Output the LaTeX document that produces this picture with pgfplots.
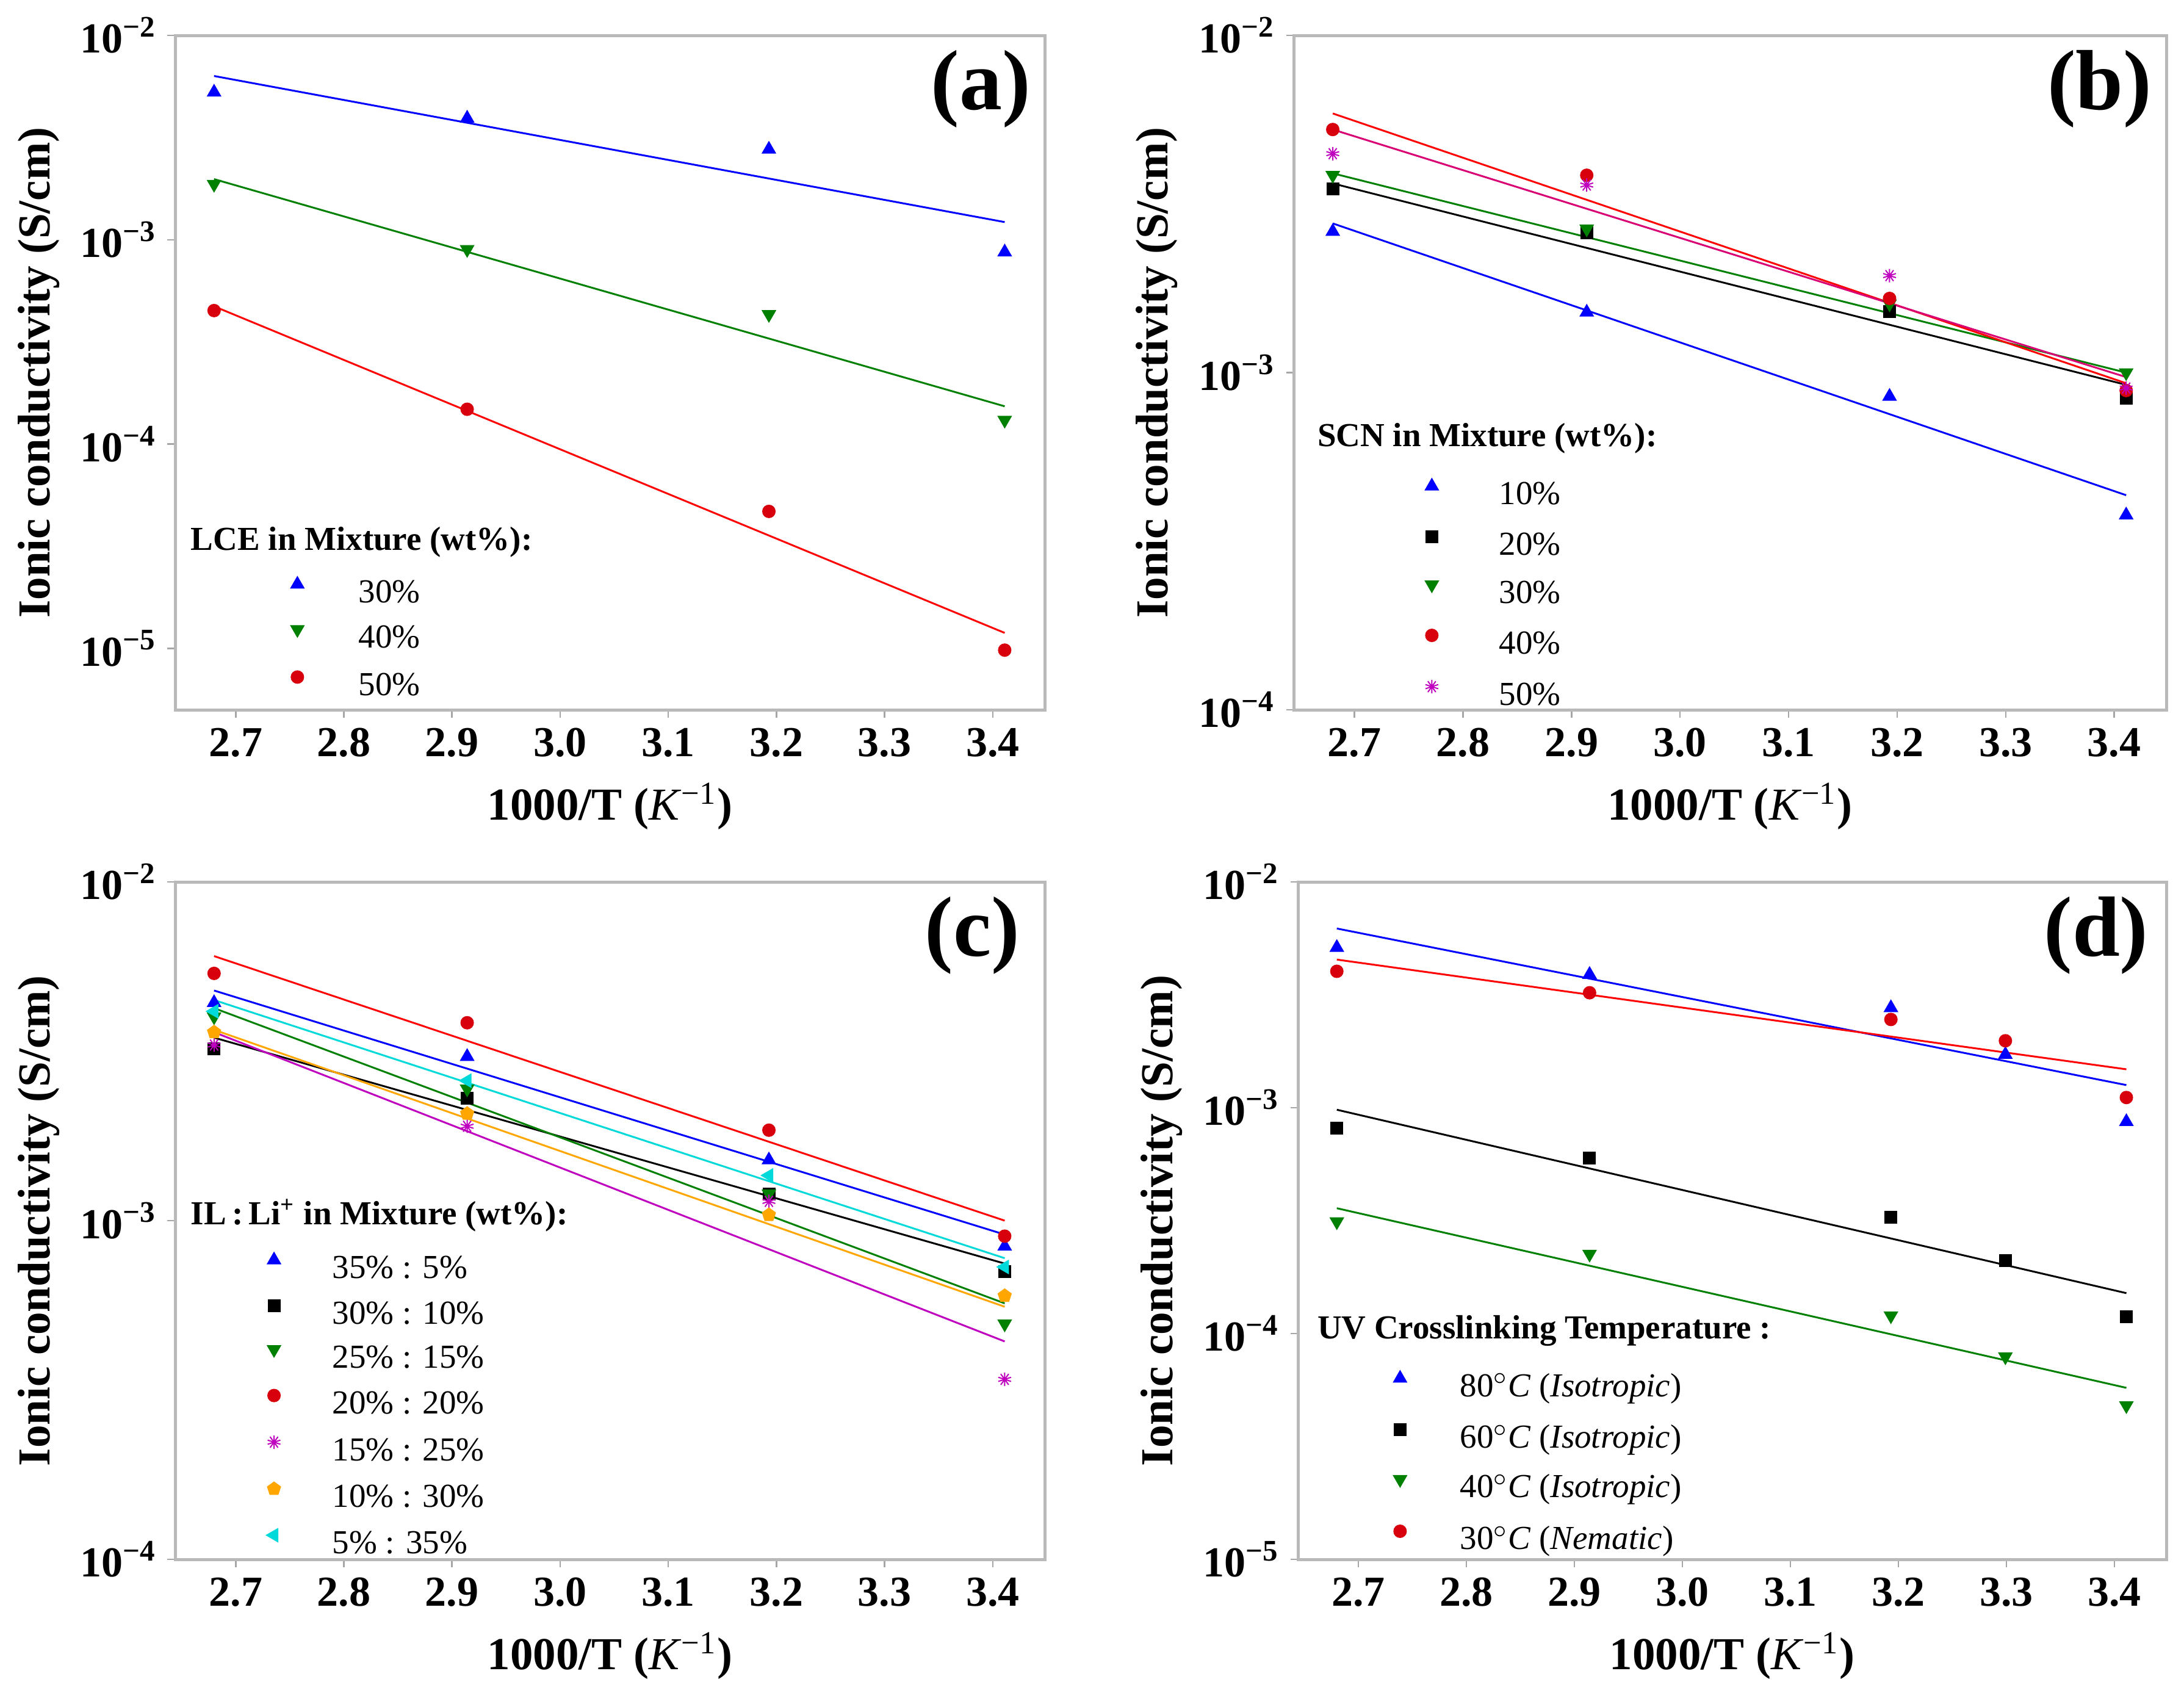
\documentclass[border=0pt]{standalone}
\usepackage{fontspec}
\setmainfont{Liberation Serif}
\usepackage{pgfplots}
\pgfplotsset{compat=1.18}
\definecolor{mblue}{rgb}{0,0,1}
\definecolor{mgreen}{rgb}{0,0.5,0}
\definecolor{mred}{rgb}{1,0,0}
\definecolor{mredm}{rgb}{0.85,0,0.05}
\definecolor{mmag}{rgb}{0.75,0,0.75}
\definecolor{morange}{rgb}{1,0.65,0}
\definecolor{mcyan}{rgb}{0,0.85,0.85}
\pgfplotsset{
  legend image code/.code={\draw[#1] plot coordinates {(0pt,3.5pt)};},
  fitline/.style={line width=0.6pt, forget plot},
  mypanel/.style={
    scale only axis,
    xmin=2.644, xmax=3.448,
    xtick={2.7,2.8,2.9,3.0,3.1,3.2,3.3,3.4},
    xticklabels={2.7,2.8,2.9,3.0,3.1,3.2,3.3,3.4},
    tick label style={font=\fontsize{14}{16}\selectfont\bfseries},
    axis line style={gray!55, line width=1pt},
    tick style={gray!70, line width=0.5pt},
    major tick length=2.5pt, tick align=outside, tick pos=left,
    yminorticks=false,
    xlabel={\textbf{1000/T (}\textit{K}\textsuperscript{−1}\textbf{)}},
    ylabel={\textbf{Ionic conductivity (S/cm)}},
    label style={font=\fontsize{15}{18}\selectfont},
    x label style={at={(axis description cs:0.5,0)}, yshift=-31.6pt, anchor=center},
    y label style={at={(axis description cs:-0.157,0.5)}, anchor=center},
    legend cell align=left,
  },
}
\newcommand{\paneltag}[2]{\node[anchor=north east, inner sep=0pt, font=\fontsize{28}{32}\selectfont\bfseries] at (rel axis cs:#1,0.979) {#2};}
\newcommand{\lgdtitle}[3]{\node[anchor=west, inner sep=0pt, font=\fontsize{11}{13}\selectfont\bfseries] at (rel axis cs:#1,#2) {#3};}
\begin{document}
\begin{tikzpicture}
\path[use as bounding box] (0pt,0pt) rectangle (715.8pt,-554.8pt);

% ---------------- (a)
\begin{semilogyaxis}[mypanel, at={(57.4pt,-11.6pt)}, anchor=north west, width=285pt, height=221pt,
  ymin=5e-6, ymax=1e-2,
  ytick={1e-5,1e-4,1e-3,1e-2},
  yticklabels={10\textsuperscript{−5},10\textsuperscript{−4},10\textsuperscript{−3},10\textsuperscript{−2}},
  legend style={draw=none, fill=none, at={(0.1333,0.197)}, anchor=north west,
      inner sep=0pt, outer sep=0pt, font=\fontsize{11}{13}\selectfont,
      column sep=18pt, row sep=5.6pt,
      nodes={inner sep=0pt, text height=7pt, text depth=2pt}}]
\addplot[mblue, fitline] coordinates {(2.680,6.33e-3) (3.411,1.22e-3)};
\addplot[mgreen, fitline] coordinates {(2.680,1.98e-3) (3.411,1.53e-4)};
\addplot[mred, fitline] coordinates {(2.680,4.72e-4) (3.411,1.19e-5)};
\addplot[only marks, mark=triangle*, mark size=2.4pt, mblue] coordinates {(2.680,5.27e-3) (2.914,3.93e-3) (3.193,2.77e-3) (3.411,8.7e-4)};
\addlegendentry{30\%}
\addplot[only marks, mark=triangle*, mark options={rotate=180}, mark size=2.4pt, mgreen] coordinates {(2.680,1.87e-3) (2.914,8.97e-4) (3.193,4.31e-4) (3.411,1.31e-4)};
\addlegendentry{40\%}
\addplot[only marks, mark=*, mark size=2pt, mredm] coordinates {(2.680,4.5e-4) (2.914,1.48e-4) (3.193,4.68e-5) (3.411,9.8e-6)};
\addlegendentry{50\%}
\lgdtitle{0.0175}{0.249}{LCE in Mixture (wt\%):}
\paneltag{0.9846}{(a)}
\end{semilogyaxis}

% ---------------- (b)
\begin{semilogyaxis}[mypanel, at={(424pt,-11.6pt)}, anchor=north west, width=286pt, height=221pt,
  ymin=1e-4, ymax=1e-2,
  ytick={1e-4,1e-3,1e-2},
  yticklabels={10\textsuperscript{−4},10\textsuperscript{−3},10\textsuperscript{−2}},
  legend style={draw=none, fill=none, at={(0.151,0.3425)}, anchor=north west,
      inner sep=0pt, outer sep=0pt, font=\fontsize{11}{13}\selectfont,
      column sep=20pt, row sep=6.6pt,
      nodes={inner sep=0pt, text height=7pt, text depth=2pt}}]
\addplot[mblue, fitline] coordinates {(2.680,2.77e-3) (3.411,4.33e-4)};
\addplot[black, fitline] coordinates {(2.680,3.64e-3) (3.411,9.2e-4)};
\addplot[mgreen, fitline] coordinates {(2.680,3.9e-3) (3.411,1.0e-3)};
\addplot[mred, fitline] coordinates {(2.680,5.87e-3) (3.411,9.3e-4)};
\addplot[mmag!60!mred, fitline] coordinates {(2.680,5.26e-3) (3.411,9.7e-4)};
\addplot[only marks, mark=triangle*, mark size=2.4pt, mblue] coordinates {(2.680,2.62e-3) (2.914,1.51e-3) (3.193,8.5e-4) (3.411,3.78e-4)};
\addlegendentry{10\%}
\addplot[only marks, mark=square*, mark size=1.9pt, black] coordinates {(2.680,3.5e-3) (2.914,2.6e-3) (3.193,1.52e-3) (3.411,8.4e-4)};
\addlegendentry{20\%}
\addplot[only marks, mark=triangle*, mark options={rotate=180}, mark size=2.4pt, mgreen] coordinates {(2.680,3.85e-3) (2.914,2.67e-3) (3.193,1.6e-3) (3.411,1.0e-3)};
\addlegendentry{30\%}
\addplot[only marks, mark=*, mark size=2pt, mredm] coordinates {(2.680,5.26e-3) (2.914,3.85e-3) (3.193,1.66e-3) (3.411,8.85e-4)};
\addlegendentry{40\%}
\addplot[only marks, mark=10-pointed star, mark size=2.2pt, mmag] coordinates {(2.680,4.46e-3) (2.914,3.6e-3) (3.193,1.94e-3) (3.411,9.0e-4)};
\addlegendentry{50\%}
\lgdtitle{0.0266}{0.4027}{SCN in Mixture (wt\%):}
\paneltag{0.984}{(b)}
\end{semilogyaxis}

% ---------------- (c)
\begin{semilogyaxis}[mypanel, at={(57.4pt,-289pt)}, anchor=north west, width=285pt, height=222pt,
  ymin=1e-4, ymax=1e-2,
  ytick={1e-4,1e-3,1e-2},
  yticklabels={10\textsuperscript{−4},10\textsuperscript{−3},10\textsuperscript{−2}},
  legend style={draw=none, fill=none, at={(0.1053,0.4527)}, anchor=north west,
      inner sep=0pt, outer sep=0pt, font=\fontsize{11}{13}\selectfont,
      column sep=17pt, row sep=5.1pt,
      nodes={inner sep=0pt, text height=7pt, text depth=2pt}}]
\addplot[mblue, fitline] coordinates {(2.680,4.78e-3) (3.411,9.1e-4)};
\addplot[black, fitline] coordinates {(2.680,3.47e-3) (3.411,7.47e-4)};
\addplot[mgreen, fitline] coordinates {(2.680,4.24e-3) (3.411,5.7e-4)};
\addplot[mred, fitline] coordinates {(2.680,6.04e-3) (3.411,1.0e-3)};
\addplot[mmag, fitline] coordinates {(2.680,3.6e-3) (3.411,4.4e-4)};
\addplot[morange, fitline] coordinates {(2.680,3.66e-3) (3.411,5.57e-4)};
\addplot[mcyan, fitline] coordinates {(2.680,4.48e-3) (3.411,7.75e-4)};
\addplot[only marks, mark=triangle*, mark size=2.4pt, mblue] coordinates {(2.680,4.4e-3) (2.914,3.05e-3) (3.193,1.51e-3) (3.411,8.4e-4)};
\addlegendentry{35\% : 5\%}
\addplot[only marks, mark=square*, mark size=1.9pt, black] coordinates {(2.680,3.22e-3) (2.914,2.3e-3) (3.193,1.2e-3) (3.411,7.06e-4)};
\addlegendentry{30\% : 10\%}
\addplot[only marks, mark=triangle*, mark options={rotate=180}, mark size=2.4pt, mgreen] coordinates {(2.680,4.0e-3) (2.914,2.45e-3) (3.193,1.2e-3) (3.411,4.96e-4)};
\addlegendentry{25\% : 15\%}
\addplot[only marks, mark=*, mark size=2pt, mredm] coordinates {(2.680,5.37e-3) (2.914,3.84e-3) (3.193,1.85e-3) (3.411,9.0e-4)};
\addlegendentry{20\% : 20\%}
\addplot[only marks, mark=10-pointed star, mark size=2.2pt, mmag] coordinates {(2.680,3.3e-3) (2.914,1.9e-3) (3.193,1.14e-3) (3.411,3.4e-4)};
\addlegendentry{15\% : 25\%}
\addplot[only marks, mark=pentagon*, mark size=2.2pt, morange] coordinates {(2.680,3.6e-3) (2.914,2.07e-3) (3.193,1.04e-3) (3.411,6.0e-4)};
\addlegendentry{10\% : 30\%}
\addplot[only marks, mark=triangle*, mark options={rotate=90}, mark size=2.4pt, mcyan] coordinates {(2.680,4.15e-3) (2.914,2.59e-3) (3.193,1.36e-3) (3.411,7.3e-4)};
\addlegendentry{5\% : 35\%}
\lgdtitle{0.0175}{0.508}{IL\,:\,Li\textsuperscript{+} in Mixture (wt\%):}
\paneltag{0.972}{(c)}
\end{semilogyaxis}

% ---------------- (d)
\begin{semilogyaxis}[mypanel, at={(425.4pt,-289pt)}, anchor=north west, width=284.6pt, height=222pt,
  ymin=1e-5, ymax=1e-2,
  ytick={1e-5,1e-4,1e-3,1e-2},
  yticklabels={10\textsuperscript{−5},10\textsuperscript{−4},10\textsuperscript{−3},10\textsuperscript{−2}},
  legend style={draw=none, fill=none, at={(0.1103,0.278)}, anchor=north west,
      inner sep=0pt, outer sep=0pt, font=\fontsize{11}{13}\selectfont,
      column sep=17.6pt, row sep=7pt,
      nodes={inner sep=0pt, text height=7pt, text depth=2pt}}]
\addplot[mblue, fitline] coordinates {(2.680,6.22e-3) (3.411,1.26e-3)};
\addplot[black, fitline] coordinates {(2.680,9.8e-4) (3.411,1.51e-4)};
\addplot[mgreen, fitline] coordinates {(2.680,3.59e-4) (3.411,5.75e-5)};
\addplot[mred, fitline] coordinates {(2.680,4.53e-3) (3.411,1.48e-3)};
\addplot[only marks, mark=triangle*, mark size=2.4pt, mblue] coordinates {(2.680,5.12e-3) (2.914,3.89e-3) (3.193,2.77e-3) (3.299,1.72e-3) (3.411,8.67e-4)};
\addlegendentry{80$^{\circ}$\textit{C} (\textit{Isotropic})}
\addplot[only marks, mark=square*, mark size=1.9pt, black] coordinates {(2.680,8.1e-4) (2.914,6.0e-4) (3.193,3.27e-4) (3.299,2.11e-4) (3.411,1.19e-4)};
\addlegendentry{60$^{\circ}$\textit{C} (\textit{Isotropic})}
\addplot[only marks, mark=triangle*, mark options={rotate=180}, mark size=2.4pt, mgreen] coordinates {(2.680,3.13e-4) (2.914,2.25e-4) (3.193,1.2e-4) (3.299,7.9e-5) (3.411,4.8e-5)};
\addlegendentry{40$^{\circ}$\textit{C} (\textit{Isotropic})}
\addplot[only marks, mark=*, mark size=2pt, mredm] coordinates {(2.680,4.02e-3) (2.914,3.23e-3) (3.193,2.46e-3) (3.299,1.98e-3) (3.411,1.11e-3)};
\addlegendentry{30$^{\circ}$\textit{C} (\textit{Nematic})}
\lgdtitle{0.0218}{0.3378}{UV Crosslinking Temperature :}
\paneltag{0.980}{(d)}
\end{semilogyaxis}
\end{tikzpicture}
\end{document}
